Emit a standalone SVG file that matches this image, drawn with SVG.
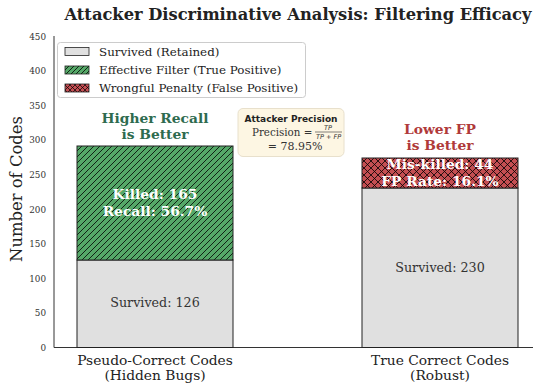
<svg xmlns="http://www.w3.org/2000/svg" width="533" height="385" viewBox="0 0 533 385">
<defs>
<pattern id="diag" patternUnits="userSpaceOnUse" width="6" height="6">
<rect width="6" height="6" fill="#55a868"/>
<path d="M-1,1 L1,-1 M0,6 L6,0 M5,7 L7,5" stroke="#000" stroke-width="0.8"/>
</pattern>
<pattern id="cross" patternUnits="userSpaceOnUse" width="7" height="7">
<rect width="7" height="7" fill="#c44e52"/>
<path d="M0,0 L7,7 M0,7 L7,0" stroke="#000" stroke-width="0.8"/>
</pattern>
<pattern id="diagS" patternUnits="userSpaceOnUse" width="5" height="5">
<rect width="5" height="5" fill="#55a868"/>
<path d="M-1,1 L1,-1 M0,5 L5,0 M4,6 L6,4" stroke="#000" stroke-width="0.8"/>
</pattern>
<pattern id="crossS" patternUnits="userSpaceOnUse" width="5" height="5">
<rect width="5" height="5" fill="#c44e52"/>
<path d="M0,0 L5,5 M0,5 L5,0" stroke="#000" stroke-width="0.7"/>
</pattern>
</defs>
<style>
.serif{font-family:"DejaVu Serif","Liberation Serif",serif;}
.tick{font-family:"DejaVu Serif","Liberation Serif",serif;font-size:8.8px;fill:#333;text-anchor:end;}
.leg{font-family:"DejaVu Serif","Liberation Serif",serif;font-size:11.9px;fill:#222;}
.xl{font-family:"DejaVu Serif","Liberation Serif",serif;font-size:13.8px;fill:#222;text-anchor:middle;}
.bar{stroke:#222;stroke-width:1;}
.in{font-family:"DejaVu Serif","Liberation Serif",serif;font-size:13.8px;font-weight:bold;fill:#fff;text-anchor:middle;}
.surv{font-family:"DejaVu Serif","Liberation Serif",serif;font-size:12.7px;fill:#333;text-anchor:middle;}
.hdr{font-family:"DejaVu Serif","Liberation Serif",serif;font-size:13.8px;font-weight:bold;text-anchor:middle;}
</style>
<rect width="533" height="385" fill="#fff"/>
<text x="298" y="20" class="serif" font-size="16.3" font-weight="bold" fill="#222" text-anchor="middle">Attacker Discriminative Analysis: Filtering Efficacy</text>

<g id="axes">
<line x1="54" y1="36" x2="54" y2="347.5" stroke="#333" stroke-width="1"/>
<line x1="54" y1="347.5" x2="533" y2="347.5" stroke="#333" stroke-width="1"/>
<text class="tick" x="46" y="350.5">0</text>
<text class="tick" x="46" y="316">50</text>
<text class="tick" x="46" y="281.5">100</text>
<text class="tick" x="46" y="247">150</text>
<text class="tick" x="46" y="212.5">200</text>
<text class="tick" x="46" y="178">250</text>
<text class="tick" x="46" y="143">300</text>
<text class="tick" x="46" y="108.5">350</text>
<text class="tick" x="46" y="74">400</text>
<text class="tick" x="46" y="39.5">450</text>
<text x="22" y="189" class="serif" font-size="16.4" fill="#222" text-anchor="middle" transform="rotate(-90 22 189)">Number of Codes</text>
<text class="xl" x="155" y="365">Pseudo-Correct Codes</text>
<text class="xl" x="155" y="380">(Hidden Bugs)</text>
<text class="xl" x="440" y="365">True Correct Codes</text>
<text class="xl" x="440" y="380">(Robust)</text>
</g>

<g id="bar-pseudo">
<rect class="bar" x="77" y="260" width="156" height="87.5" fill="#e0e0e0"/>
<rect class="bar" x="77" y="146" width="156" height="114" fill="url(#diag)"/>
<text class="surv" x="155" y="307">Survived: 126</text>
<text class="in" x="155" y="199">Killed: 165</text>
<text class="in" x="155" y="216">Recall: 56.7%</text>
<text class="hdr" x="155" y="123" fill="#2e6b4f">Higher Recall</text>
<text class="hdr" x="155" y="139" fill="#2e6b4f">is Better</text>
</g>

<g id="bar-true">
<rect class="bar" x="362" y="188" width="156" height="159.5" fill="#e0e0e0"/>
<rect class="bar" x="362" y="158" width="156" height="30" fill="url(#cross)"/>
<text class="surv" x="440" y="272">Survived: 230</text>
<text class="in" x="440" y="169">Mis-killed: 44</text>
<text class="in" x="440" y="186">FP Rate: 16.1%</text>
<text class="hdr" x="440" y="134" fill="#b03a3a">Lower FP</text>
<text class="hdr" x="440" y="150" fill="#b03a3a">is Better</text>
</g>

<g id="precision-box">
<rect x="238" y="108.5" width="106" height="48" rx="5" fill="#fdf6e3" stroke="#e8e0cc" stroke-width="1"/>
<text x="291" y="121.5" font-family="'DejaVu Sans','Liberation Sans',sans-serif" font-size="9" font-weight="bold" fill="#222" text-anchor="middle">Attacker Precision</text>
<text x="252" y="136" class="serif" font-size="10.3" fill="#333">Precision =</text>
<text x="328" y="129.5" font-family="'DejaVu Sans','Liberation Sans',sans-serif" font-size="6.5" font-style="italic" fill="#333" text-anchor="middle">TP</text>
<line x1="315" y1="132" x2="342" y2="132" stroke="#333" stroke-width="0.6"/>
<text x="328.5" y="139" font-family="'DejaVu Sans','Liberation Sans',sans-serif" font-size="6.5" font-style="italic" fill="#333" text-anchor="middle">TP + FP</text>
<text x="295" y="150" class="serif" font-size="11" fill="#333" text-anchor="middle">= 78.95%</text>
</g>

<g id="legend">
<rect x="57.5" y="42.5" width="248" height="55" rx="3" fill="#fff" stroke="#ccc" stroke-width="1"/>
<rect x="65" y="47.5" width="24" height="8" fill="#e0e0e0" stroke="#222" stroke-width="0.8"/>
<text class="leg" x="99" y="55.5">Survived (Retained)</text>
<rect x="65" y="66" width="24" height="8" fill="url(#diagS)" stroke="#222" stroke-width="0.8"/>
<text class="leg" x="99" y="74">Effective Filter (True Positive)</text>
<rect x="65" y="84" width="24" height="8" fill="url(#crossS)" stroke="#222" stroke-width="0.8"/>
<text class="leg" x="99" y="92">Wrongful Penalty (False Positive)</text>
</g>
</svg>
